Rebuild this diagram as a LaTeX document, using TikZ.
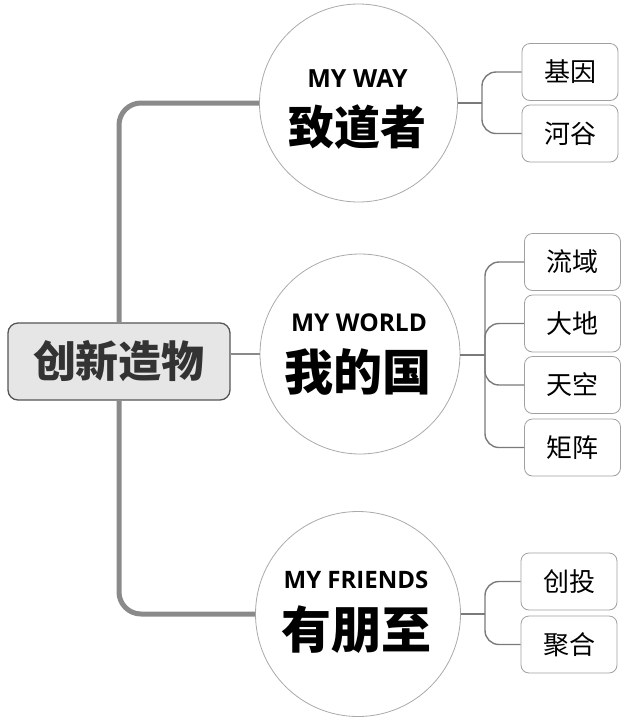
\documentclass[tikz,border=0pt]{standalone}
\usepackage{fontspec}
\newfontfamily\cjk{Noto Sans CJK SC}
\newfontfamily\en{Open Sans}
\definecolor{trunk}{HTML}{8A8A8A}
\definecolor{twigc}{HTML}{7A7A7A}
\definecolor{rootborder}{HTML}{555555}
\definecolor{rootfill}{HTML}{E6E6E6}
\definecolor{roottext}{HTML}{333333}
\definecolor{circborder}{HTML}{AAAAAA}
\definecolor{leafborder}{HTML}{A0A0A0}
\begin{document}
\begin{tikzpicture}[x=1pt,y=-1pt,
  rootbox/.style={draw=rootborder, line width=1.3pt, fill=rootfill, rounded corners=10pt,
    minimum width=222pt, minimum height=77pt, inner sep=0pt,
    font=\cjk\bfseries\fontsize{43}{43}\selectfont, text=roottext},
  topic/.style={circle, draw=circborder, line width=0.8pt, fill=white, inner sep=0pt},
  titletext/.style={font=\en\bfseries\fontsize{#1}{#1}\selectfont, inner sep=0pt},
  bigtext/.style={font=\cjk\bfseries\fontsize{#1}{#1}\selectfont, inner sep=0pt},
  leaf/.style={draw=leafborder, line width=0.8pt, rounded corners=8pt, fill=white,
    minimum width=96pt, minimum height=57pt, inner sep=0pt,
    font=\cjk\fontsize{26}{26}\selectfont},
  trunkline/.style={draw=trunk, line width=5pt, rounded corners=22pt},
  twig/.style={draw=twigc, line width=1.4pt, rounded corners=14pt}]
\useasboundingbox (0,0) rectangle (640,724);

% root
\node[rootbox] (root) at (119,361.5) {创新造物};

% topic circles
\node[topic, minimum size=198pt] (c1) at (358.5,103) {};
\node[topic, minimum size=200pt] (c2) at (360,354) {};
\node[topic, minimum size=205pt] (c3) at (358,614) {};

\node[titletext=25] (t1) at (357.5,78.5) {MY WAY};
\node[bigtext=46] (k1) at (357,127) {致道者};
\node[titletext=24.5] (t2) at (359,323) {MY WORLD};
\node[bigtext=49] (k2) at (358,372) {我的国};
\node[titletext=24] (t3) at (356,579.5) {MY FRIENDS};
\node[bigtext=50] (k3) at (356,630) {有朋至};

% leaves
\node[leaf] (l11) at (570,72) {基因};
\node[leaf] (l12) at (570,133.5) {河谷};
\node[leaf] (l21) at (572.5,262) {流域};
\node[leaf] (l22) at (572.5,323.5) {大地};
\node[leaf] (l23) at (572.5,385) {天空};
\node[leaf] (l24) at (572.5,447.5) {矩阵};
\node[leaf] (l31) at (569,581.5) {创投};
\node[leaf] (l32) at (569,644.5) {聚合};

% trunk connectors
\draw[trunkline] (root.north) |- (c1.west);
\draw[trunkline] (root.south) |- (c3.west);
\draw[draw=trunk, line width=2.2pt] (root.east |- c2.west) -- (c2.west);

% branch points
\coordinate (b1) at (482,103);
\coordinate (b2) at (485,355);
\coordinate (b3) at (485,614);

\draw[twig] (c1.east) -- (b1);
\draw[twig] (b1) |- (l11.west);
\draw[twig] (b1) |- (l12.west);

\draw[twig] (c2.east |- b2) -- (b2);
\draw[twig] (b2) |- (l21.west);
\draw[twig] (b2) |- (l22.west);
\draw[twig] (b2) |- (l23.west);
\draw[twig] (b2) |- (l24.west);

\draw[twig] (c3.east |- b3) -- (b3);
\draw[twig] (b3) |- (l31.west);
\draw[twig] (b3) |- (l32.west);
\end{tikzpicture}
\end{document}
